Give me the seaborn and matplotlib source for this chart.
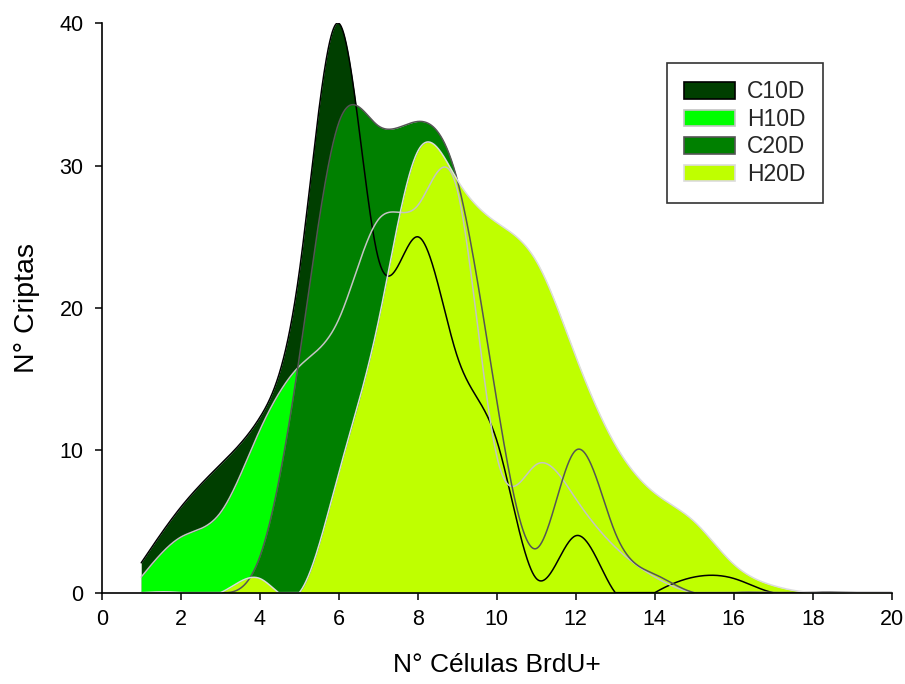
import numpy as np
import pandas as pd
import matplotlib
matplotlib.use("Agg")
import matplotlib.pyplot as plt
from matplotlib.patches import Patch
import seaborn as sns

# Number of BrdU+ cells per crypt (x) and number of crypts (y) for each group
cells = list(range(1, 21))
c10d = [2.1, 6.0, 9.0, 12.3, 22.5, 40.0, 23.5, 25.0, 16.6, 10.7, 1.0, 4.0, 0, 0, 1.1, 1.0, 0, 0, 0, 0]
h10d = [1.1, 3.9, 5.6, 11.4, 15.9, 19.2, 26.2, 27.2, 28.3, 9.6, 9.0, 6.6, 3.2, 1.1, 0, 0, 0, 0, 0, 0]
c20d = [0, 0, 0, 2.5, 16.5, 33.0, 32.8, 33.1, 29.0, 13.5, 3.1, 10.0, 4.2, 1.3, 0, 0, 0, 0, 0, 0]
h20d = [0, 0, 0, 1.0, 0, 8.4, 19.0, 31.0, 29.0, 26.0, 23.3, 16.6, 10.4, 7.0, 5.0, 2.0, 0.5, 0, 0, 0]

groups = ["C10D", "H10D", "C20D", "H20D"]
values = [c10d, h10d, c20d, h20d]
fill_colors = ["#003f00", "#00ff00", "#008000", "#bfff00"]
edge_colors = ["#000000", "#c4c4c4", "#555555", "#dcdcdc"]


def natural_spline(x, y, xs):
    """Natural cubic spline through (x, y), evaluated at xs."""
    x = np.asarray(x, float)
    y = np.asarray(y, float)
    n = len(x)
    h = np.diff(x)
    A = np.zeros((n, n))
    r = np.zeros(n)
    A[0, 0] = 1.0
    A[-1, -1] = 1.0
    for i in range(1, n - 1):
        A[i, i - 1] = h[i - 1]
        A[i, i] = 2 * (h[i - 1] + h[i])
        A[i, i + 1] = h[i]
        r[i] = 3 * ((y[i + 1] - y[i]) / h[i] - (y[i] - y[i - 1]) / h[i - 1])
    c = np.linalg.solve(A, r)
    b = (y[1:] - y[:-1]) / h - h * (2 * c[:-1] + c[1:]) / 3
    d = (c[1:] - c[:-1]) / (3 * h)
    idx = np.clip(np.searchsorted(x, xs) - 1, 0, n - 2)
    dx = xs - x[idx]
    return y[idx] + b[idx] * dx + c[idx] * dx ** 2 + d[idx] * dx ** 3


sns.set_theme(style="ticks")
plt.rcParams["font.family"] = ["Liberation Sans", "DejaVu Sans"]

fig = plt.figure(figsize=(9.05, 6.84), dpi=100)
ax = fig.add_axes([0.1124, 0.1335, 0.873, 0.8325])

xs = np.linspace(cells[0], cells[-1], 2000)
frames = []
for name, vals in zip(groups, values):
    ys = np.clip(natural_spline(cells, vals, xs), 0, None)
    frames.append(pd.DataFrame({"cells": xs, "crypts": ys, "group": name}))
curves = pd.concat(frames, ignore_index=True)

# filled areas, back to front
for name, fc in zip(groups, fill_colors):
    sub = curves[curves["group"] == name]
    ax.fill_between(sub["cells"], 0, sub["crypts"], color=fc, linewidth=0, zorder=1)

# outlines on top of every area
sns.lineplot(data=curves, x="cells", y="crypts", hue="group", hue_order=groups,
             palette=dict(zip(groups, edge_colors)), linewidth=1.1, legend=False,
             ax=ax, zorder=3, sort=False, estimator=None)

ax.set_xlim(0, 20)
ax.set_ylim(0, 40)
ax.set_xticks(range(0, 21, 2))
ax.set_yticks(range(0, 41, 10))
ax.tick_params(axis="both", direction="out", length=5, width=1.1, labelsize=15.5,
               color="black", labelcolor="black")
ax.tick_params(axis="x", pad=7)
ax.tick_params(axis="y", pad=8)
for side in ("top", "right"):
    ax.spines[side].set_visible(False)
for side in ("left", "bottom"):
    ax.spines[side].set_color("black")
    ax.spines[side].set_linewidth(1.2)
    ax.spines[side].set_zorder(4)
ax.set_facecolor("white")
ax.grid(False)

ax.set_xlabel("N° Células BrdU+", fontsize=19, color="black", labelpad=16)
ax.set_ylabel("N° Criptas", fontsize=20.5, color="black", labelpad=14)

handles = [Patch(facecolor=fc, edgecolor=ec, linewidth=1.2, label=g)
           for g, fc, ec in zip(groups, fill_colors, edge_colors)]
leg = ax.legend(handles=handles, loc="upper left", bbox_to_anchor=(0.7156, 0.930),
                frameon=True, fancybox=False, edgecolor="black", fontsize=16.5,
                handlelength=2.2, handleheight=0.75, handletextpad=0.55,
                borderpad=0.75, labelspacing=0.2, borderaxespad=0)
leg.get_frame().set_linewidth(1.2)

fig.savefig("out.png", dpi=100, facecolor="white")
